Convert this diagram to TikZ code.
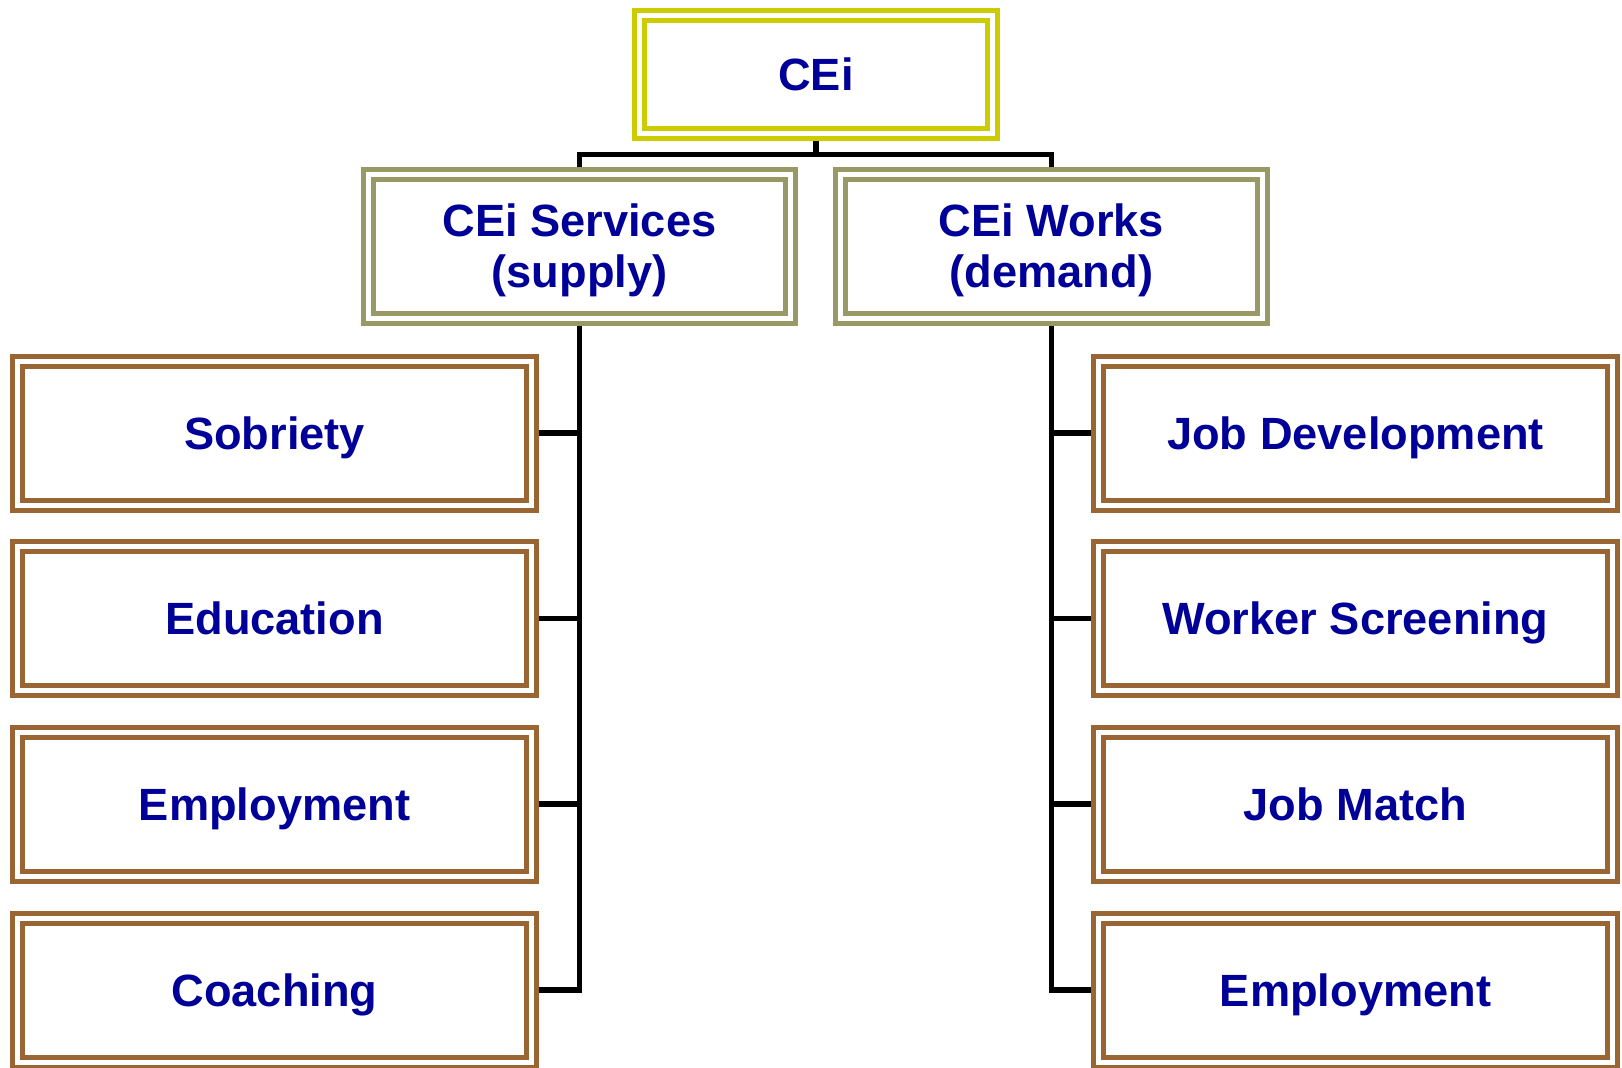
\documentclass[tikz,border=0pt]{standalone}
\usepackage{fontspec}
\setmainfont{Liberation Sans}
\usetikzlibrary{backgrounds}
\definecolor{txtblue}{RGB}{0,0,153}
\definecolor{topyel}{RGB}{204,204,0}
\definecolor{midolive}{RGB}{153,153,102}
\definecolor{leafbrown}{RGB}{153,102,51}
\newcommand{\firststrut}{\rule{0pt}{20.6pt}}
\begin{document}
\begin{tikzpicture}[x=0.5pt,y=-0.5pt,
  box/.style={draw, line width=2.5pt, double=white, double distance=2.5pt, fill=white,
    inner sep=0pt, align=center, text=txtblue,
    font=\fontsize{22.6}{25.5}\selectfont\bfseries},
  onerow/.style={text height=16.2pt, text depth=0pt},
  topbox/.style={box, onerow, draw=topyel, minimum width=176.5pt, minimum height=59pt},
  midbox/.style={box, draw=midolive, minimum width=211pt, minimum height=72pt},
  leafbox/.style={box, onerow, draw=leafbrown, minimum width=257pt, minimum height=72pt},
  conn/.style={line width=2.9pt, draw=black}]
\useasboundingbox (0,0) rectangle (1622,1067);

\node[topbox] (cei) at (816,74.5) {CEi};
\node[midbox] (serv) at (579.5,246.5) {\firststrut CEi Services\\(supply)};
\node[midbox] (works) at (1051.5,246.5) {\firststrut CEi Works\\(demand)};

\node[leafbox] (sob)   at (274.5,433)   {Sobriety};
\node[leafbox] (edu)   at (274.5,618.5) {Education};
\node[leafbox] (empl)  at (274.5,804)   {Employment};
\node[leafbox] (coach) at (274.5,990)   {Coaching};

\node[leafbox] (jobdev) at (1355.5,433)   {Job Development};
\node[leafbox] (screen) at (1355.5,618.5) {Worker Screening};
\node[leafbox] (match)  at (1355.5,804)   {Job Match};
\node[leafbox] (empr)   at (1355.5,990)   {Employment};

\coordinate (bus) at (816,154.5);

\begin{scope}[on background layer]
\draw[conn] (cei.south) -- (bus);
\draw[conn] (serv.north) |- (bus) -| (works.north);
\draw[conn] (serv.south) |- (coach.east);
\draw[conn] (sob.east) -- (sob.east -| serv.south);
\draw[conn] (edu.east) -- (edu.east -| serv.south);
\draw[conn] (empl.east) -- (empl.east -| serv.south);
\draw[conn] (works.south) |- (empr.west);
\draw[conn] (jobdev.west) -- (jobdev.west -| works.south);
\draw[conn] (screen.west) -- (screen.west -| works.south);
\draw[conn] (match.west) -- (match.west -| works.south);
\end{scope}
\end{tikzpicture}
\end{document}
